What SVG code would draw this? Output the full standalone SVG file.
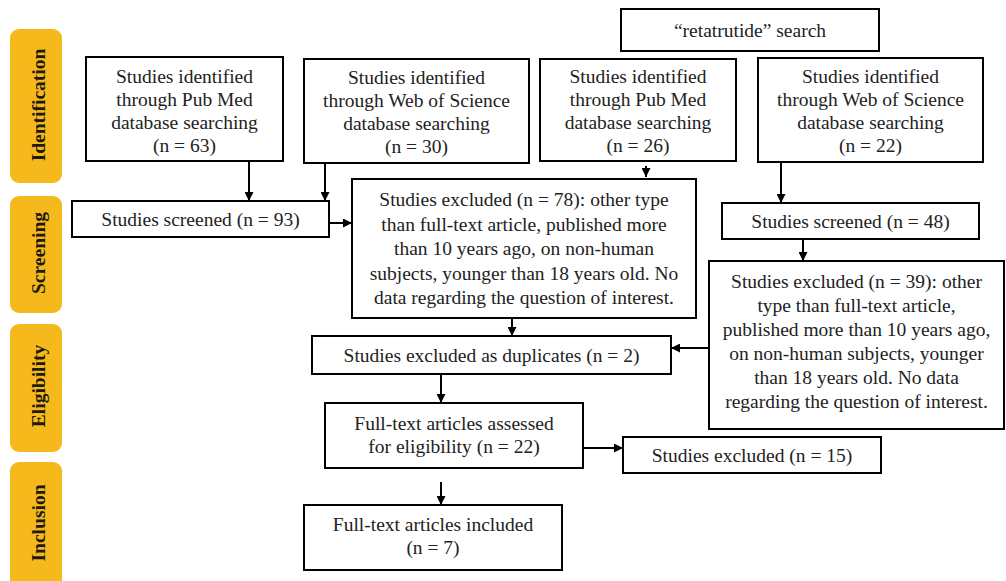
<svg xmlns="http://www.w3.org/2000/svg" width="1006" height="581" viewBox="0 0 1006 581">
  <style>
    .box { fill: #ffffff; stroke: #000000; stroke-width: 2; }
    .tab { fill: #F6B91C; }
    .t { font-family: "Liberation Serif", Tinos, "Times New Roman", "DejaVu Serif", serif; font-size: 19.5px; fill: #222222; text-anchor: middle; }
    .tt { font-family: "Liberation Serif", Tinos, "Times New Roman", "DejaVu Serif", serif; font-size: 19.5px; font-weight: bold; fill: #1e1a10; text-anchor: middle; }
    .c { stroke: #000000; stroke-width: 2; fill: none; marker-end: url(#ah); }
  </style>
  <defs>
    <marker id="ah" viewBox="0 0 10 10" refX="10" refY="5" markerWidth="10" markerHeight="9" markerUnits="userSpaceOnUse" orient="auto">
      <path d="M0,0 L10,5 L0,10 z" fill="#000000"/>
    </marker>
  </defs>
  <rect width="1006" height="581" fill="#ffffff"/>

  <g id="tab-identification">
    <rect class="tab" x="10" y="29" width="52" height="154" rx="9"/>
    <text class="tt" transform="translate(45,105) rotate(-90)">Identification</text>
  </g>
  <g id="tab-screening">
    <rect class="tab" x="10" y="196" width="52" height="117" rx="9"/>
    <text class="tt" transform="translate(45,253) rotate(-90)">Screening</text>
  </g>
  <g id="tab-eligibility">
    <rect class="tab" x="10" y="324" width="52" height="128" rx="9"/>
    <text class="tt" transform="translate(45,386) rotate(-90)">Eligibility</text>
  </g>
  <g id="tab-inclusion">
    <rect class="tab" x="10" y="462" width="52" height="130" rx="9"/>
    <text class="tt" transform="translate(45,523) rotate(-90)">Inclusion</text>
  </g>

  <g id="search">
    <rect class="box" x="621" y="9" width="258" height="42"/>
    <text class="t" x="750" y="37">“retatrutide” search</text>
  </g>
  <g id="pubmed1">
    <rect class="box" x="86" y="57" width="197" height="104"/>
    <text class="t" x="184.5" y="83">Studies identified</text>
    <text class="t" x="184.5" y="106">through Pub Med</text>
    <text class="t" x="184.5" y="129">database searching</text>
    <text class="t" x="184.5" y="152">(n = 63)</text>
  </g>
  <g id="wos1">
    <rect class="box" x="304" y="59" width="225" height="104"/>
    <text class="t" x="416.5" y="84">Studies identified</text>
    <text class="t" x="416.5" y="107">through Web of Science</text>
    <text class="t" x="416.5" y="130">database searching</text>
    <text class="t" x="416.5" y="153">(n = 30)</text>
  </g>
  <g id="pubmed2">
    <rect class="box" x="540" y="59" width="196" height="102"/>
    <text class="t" x="638" y="83">Studies identified</text>
    <text class="t" x="638" y="106">through Pub Med</text>
    <text class="t" x="638" y="129">database searching</text>
    <text class="t" x="638" y="152">(n = 26)</text>
  </g>
  <g id="wos2">
    <rect class="box" x="758" y="58" width="225" height="104"/>
    <text class="t" x="870.5" y="83">Studies identified</text>
    <text class="t" x="870.5" y="106">through Web of Science</text>
    <text class="t" x="870.5" y="129">database searching</text>
    <text class="t" x="870.5" y="152">(n = 22)</text>
  </g>
  <g id="screened93">
    <rect class="box" x="72" y="201" width="257" height="36"/>
    <text class="t" x="200.5" y="226">Studies screened (n = 93)</text>
  </g>
  <g id="excluded78">
    <rect class="box" x="352" y="179" width="344" height="139"/>
    <text class="t" x="524" y="206">Studies excluded (n = 78): other type</text>
    <text class="t" x="524" y="230.5">than full-text article, published more</text>
    <text class="t" x="524" y="255">than 10 years ago, on non-human</text>
    <text class="t" x="524" y="279.5">subjects, younger than 18 years old. No</text>
    <text class="t" x="524" y="304">data regarding the question of interest.</text>
  </g>
  <g id="screened48">
    <rect class="box" x="722" y="203" width="257" height="36"/>
    <text class="t" x="850.5" y="228">Studies screened (n = 48)</text>
  </g>
  <g id="excluded39">
    <rect class="box" x="709" y="261" width="295" height="168"/>
    <text class="t" x="856.5" y="288">Studies excluded (n = 39): other</text>
    <text class="t" x="856.5" y="312">type than full-text article,</text>
    <text class="t" x="856.5" y="336">published more than 10 years ago,</text>
    <text class="t" x="856.5" y="360">on non-human subjects, younger</text>
    <text class="t" x="856.5" y="384">than 18 years old. No data</text>
    <text class="t" x="856.5" y="408">regarding the question of interest.</text>
  </g>
  <g id="duplicates">
    <rect class="box" x="312" y="336" width="359" height="38"/>
    <text class="t" x="491.5" y="362">Studies excluded as duplicates (n = 2)</text>
  </g>
  <g id="assessed">
    <rect class="box" x="325" y="403" width="258" height="65"/>
    <text class="t" x="454" y="430">Full-text articles assessed</text>
    <text class="t" x="454" y="453">for eligibility (n = 22)</text>
  </g>
  <g id="excluded15">
    <rect class="box" x="623" y="437" width="258" height="36"/>
    <text class="t" x="752" y="462">Studies excluded (n = 15)</text>
  </g>
  <g id="included">
    <rect class="box" x="304" y="505" width="258" height="65"/>
    <text class="t" x="433" y="531">Full-text articles included</text>
    <text class="t" x="433" y="554">(n = 7)</text>
  </g>

  <g id="connectors">
    <line class="c" x1="249" y1="161" x2="249" y2="201"/>
    <line class="c" x1="325" y1="163" x2="325" y2="201"/>
    <line class="c" x1="329" y1="223" x2="352" y2="223"/>
    <line class="c" x1="646" y1="166" x2="646" y2="177"/>
    <line class="c" x1="512" y1="318" x2="512" y2="336"/>
    <line class="c" x1="781" y1="162" x2="781" y2="203"/>
    <line class="c" x1="803" y1="239" x2="803" y2="261"/>
    <line class="c" x1="709" y1="348" x2="671" y2="348"/>
    <line class="c" x1="441" y1="374" x2="441" y2="403"/>
    <line class="c" x1="583" y1="448" x2="623" y2="448"/>
    <line class="c" x1="441" y1="482" x2="441" y2="505"/>
  </g>
</svg>
